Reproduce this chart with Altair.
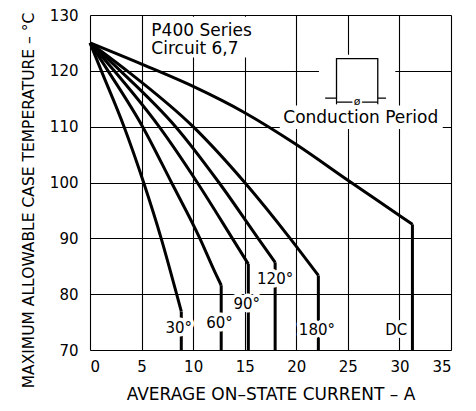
import altair as alt
import pandas as pd

# ---- data ----
series = ["30°", "60°", "90°", "120°", "180°", "DC"]
cur_30 = [0, 1.1, 3.3, 5.2, 6.9, 8.4, 8.85, 8.85]
tmp_30 = [125, 120, 110, 100, 90, 80, 76.9, 70]
cur_60 = [0, 1.75, 5.1, 7.9, 10.65, 12.1, 12.72, 12.72]
tmp_60 = [125, 120, 110, 100, 90, 84, 81.6, 70]
cur_90 = [0, 2.35, 6.7, 10.4, 13.8, 15.35, 15.35]
tmp_90 = [125, 120, 110, 100, 90, 85.4, 70]
cur_120 = [0, 2.95, 8.3, 12.5, 16.3, 17.95, 17.95]
tmp_120 = [125, 120, 110, 100, 90, 85.7, 70]
cur_180 = [0, 3.6, 10, 15, 19.4, 22.14, 22.14]
tmp_180 = [125, 120, 110, 100, 90, 83.35, 70]
cur_dc = [0, 5, 10, 15, 20, 25, 30, 31.26, 31.26]
tmp_dc = [125, 121.2, 117.2, 112.5, 106.8, 100.4, 94.1, 92.5, 70]

curves = {
    "30°": (cur_30, tmp_30),
    "60°": (cur_60, tmp_60),
    "90°": (cur_90, tmp_90),
    "120°": (cur_120, tmp_120),
    "180°": (cur_180, tmp_180),
    "DC": (cur_dc, tmp_dc),
}

# curve labels (anchor in data units)
label_text = ["30°", "60°", "90°", "120°", "180°", "DC"]
label_cur = [8.6, 12.55, 15.2, 17.95, 22.0, 29.7]
label_tmp = [73.9, 74.8, 78.3, 82.7, 73.5, 73.5]

# header text
head_text = ["P400 Series", "Circuit 6,7"]
head_cur = [5.95, 5.95]
head_tmp = [126.3, 123.0]

# conduction-period inset (waveform sketch)
wave_cur = [22.8, 23.9, 23.9, 27.9, 27.9, 28.7]
wave_tmp = [115.1, 115.1, 122.2, 122.2, 115.1, 115.1]

x_ticks = [0, 5, 10, 15, 20, 25, 30, 35]
y_ticks = [70, 80, 90, 100, 110, 120, 130]

FONT = "DejaVu Sans"

curve_rows, drop_rows = [], []
for name, (cs, ts) in curves.items():
    for i, (c, t) in enumerate(zip(cs[:-1], ts[:-1])):
        curve_rows.append({"series": name, "order": i, "current": c, "temp": t})
    drop_rows.append({"series": name, "current": cs[-2], "temp": ts[-2], "temp2": ts[-1]})
df = pd.DataFrame(curve_rows)
drop_df = pd.DataFrame(drop_rows)

xs = alt.Scale(domain=[0, 35], nice=False, zero=False)
ys = alt.Scale(domain=[70, 130], nice=False, zero=False)

X = alt.X("current:Q", scale=xs,
          axis=alt.Axis(values=x_ticks, title="AVERAGE ON–STATE CURRENT – A",
                        grid=True, gridColor="#000", gridWidth=1.1,
                        domain=False, ticks=False, labelPadding=9,
                        labelFont=FONT, labelFontSize=15, labelColor="#000",
                        titleFont=FONT, titleFontSize=17, titleFontWeight="normal",
                        titleColor="#000", titlePadding=12))
Y = alt.Y("temp:Q", scale=ys,
          axis=alt.Axis(values=y_ticks, title="MAXIMUM ALLOWABLE CASE TEMPERATURE – °C",
                        grid=True, gridColor="#000", gridWidth=1.1,
                        domain=False, ticks=False, labelPadding=12,
                        labelFont=FONT, labelFontSize=15, labelColor="#000",
                        titleFont=FONT, titleFontSize=15.5, titleFontWeight="normal",
                        titleColor="#000", titlePadding=13, titleY=185))

# white boxes under the header and inset (grid breaks)
box_df = pd.DataFrame({
    "x1": [5.4, 22.2, 18.4], "x2": [16.8, 29.6, 34.2],
    "y1": [122.4, 110.4, 109.6], "y2": [129.7, 122.9, 113.8],
})
boxes = alt.Chart(box_df).mark_rect(color="white").encode(
    x=alt.X("x1:Q", scale=xs), x2="x2:Q",
    y=alt.Y("y1:Q", scale=ys), y2="y2:Q")

lines = alt.Chart(df).mark_line(color="#000", strokeWidth=3, interpolate="monotone").encode(
    x=X, y=Y, detail="series:N", order="order:Q")

drops = alt.Chart(drop_df).mark_rule(color="#000", strokeWidth=3).encode(
    x=alt.X("current:Q", scale=xs), y=alt.Y("temp:Q", scale=ys), y2="temp2:Q")

wave_df = pd.DataFrame({"current": wave_cur, "temp": wave_tmp, "order": range(len(wave_cur))})
wave = alt.Chart(wave_df).mark_line(color="#000", strokeWidth=1.3).encode(
    x=alt.X("current:Q", scale=xs), y=alt.Y("temp:Q", scale=ys), order="order:Q")

dim_df = pd.DataFrame({"c1": [23.9, 27.9, 23.9], "c2": [23.9, 27.9, 27.9],
                       "t1": [115.1, 115.1, 114.4], "t2": [114.0, 114.0, 114.4]})
dims = alt.Chart(dim_df).mark_rule(color="#000", strokeWidth=1.2).encode(
    x=alt.X("c1:Q", scale=xs), x2="c2:Q", y=alt.Y("t1:Q", scale=ys), y2="t2:Q")

phi_df = pd.DataFrame({"current": [25.9], "temp": [114.4], "t": ["ø"]})
phi_halo = alt.Chart(phi_df).mark_text(font=FONT, fontSize=11, stroke="white", strokeWidth=4,
                                       baseline="middle").encode(
    x=alt.X("current:Q", scale=xs), y=alt.Y("temp:Q", scale=ys), text="t:N")
phi = alt.Chart(phi_df).mark_text(font=FONT, fontSize=11, color="#000",
                                  baseline="middle").encode(
    x=alt.X("current:Q", scale=xs), y=alt.Y("temp:Q", scale=ys), text="t:N")

cp_df = pd.DataFrame({"current": [26.25], "temp": [110.6], "t": ["Conduction Period"]})
cp = alt.Chart(cp_df).mark_text(font=FONT, fontSize=17, color="#000",
                                baseline="alphabetic").encode(
    x=alt.X("current:Q", scale=xs), y=alt.Y("temp:Q", scale=ys), text="t:N")

lab_df = pd.DataFrame({"current": label_cur, "temp": label_tmp, "t": label_text})
lab_halo = alt.Chart(lab_df).mark_text(font=FONT, fontSize=15, stroke="white", strokeWidth=7,
                                       strokeJoin="round", baseline="middle").encode(
    x=alt.X("current:Q", scale=xs), y=alt.Y("temp:Q", scale=ys), text="t:N")
lab = alt.Chart(lab_df).mark_text(font=FONT, fontSize=15, color="#000",
                                  baseline="middle").encode(
    x=alt.X("current:Q", scale=xs), y=alt.Y("temp:Q", scale=ys), text="t:N")

head_df = pd.DataFrame({"current": head_cur, "temp": head_tmp, "t": head_text})
head = alt.Chart(head_df).mark_text(font=FONT, fontSize=17, color="#000", align="left",
                                    baseline="alphabetic").encode(
    x=alt.X("current:Q", scale=xs), y=alt.Y("temp:Q", scale=ys), text="t:N")

chart = alt.layer(boxes, lines, drops, wave, dims, phi_halo, phi, cp,
                  lab_halo, lab, head).properties(
    width=361, height=335,
    autosize=alt.AutoSizeParams(type="none"),
    padding={"left": 82, "top": 7, "right": 15, "bottom": 58},
).configure_view(stroke="#000", strokeWidth=1.5).configure(background="white")

chart.save("out.html", embed_options={"renderer": "svg", "actions": False})
